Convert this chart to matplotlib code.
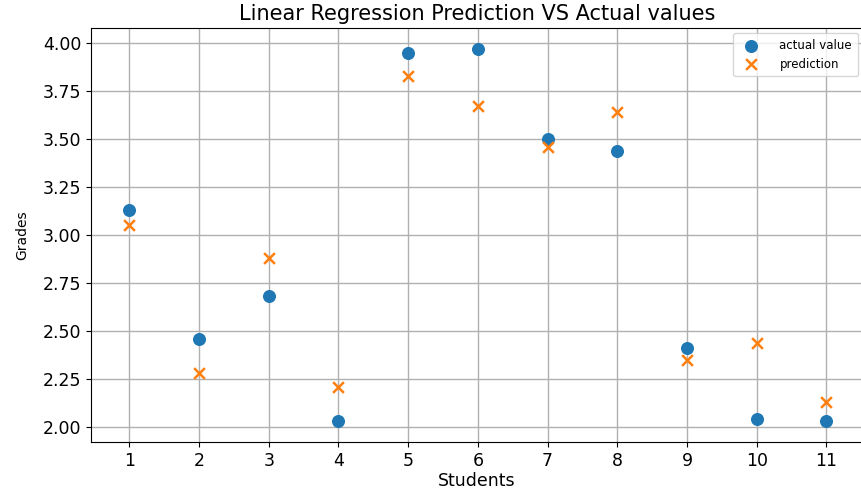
import matplotlib
matplotlib.use("Agg")
import matplotlib.pyplot as plt

students = [1, 2, 3, 4, 5, 6, 7, 8, 9, 10, 11]
actual = [3.13, 2.46, 2.68, 2.03, 3.95, 3.97, 3.50, 3.44, 2.41, 2.04, 2.03]
prediction = [3.05, 2.28, 2.88, 2.21, 3.83, 3.67, 3.46, 3.64, 2.35, 2.44, 2.13]

fig = plt.figure(figsize=(8.61, 4.91), dpi=100)
ax = fig.add_axes([0.1057, 0.0998, 0.8963, 0.8432])

ax.scatter(students, actual, s=70, marker='o', color='#1f77b4', label='actual value', zorder=3)
ax.scatter(students, prediction, s=60, marker='x', color='#ff7f0e', linewidths=1.8, label='prediction', zorder=3)

ax.set_xticks(students)
ax.set_xlim(0.45, 11.52)
ax.set_ylim(1.922, 4.078)
ax.set_yticks([2.00, 2.25, 2.50, 2.75, 3.00, 3.25, 3.50, 3.75, 4.00])
ax.set_yticklabels(['2.00', '2.25', '2.50', '2.75', '3.00', '3.25', '3.50', '3.75', '4.00'])
ax.tick_params(labelsize=12.5)
ax.grid(True, color='#b0b0b0', linewidth=1.0)
ax.set_axisbelow(True)

ax.set_title('Linear Regression Prediction VS Actual values', fontsize=15, pad=6)
ax.set_xlabel('Students', fontsize=12.5, labelpad=2)
ax.set_ylabel('Grades', fontsize=10, labelpad=10)

ax.legend(loc='upper right', fontsize=8.5, borderaxespad=0.4, handletextpad=1.4, borderpad=0.5)

fig.savefig('out.png', dpi=100)
